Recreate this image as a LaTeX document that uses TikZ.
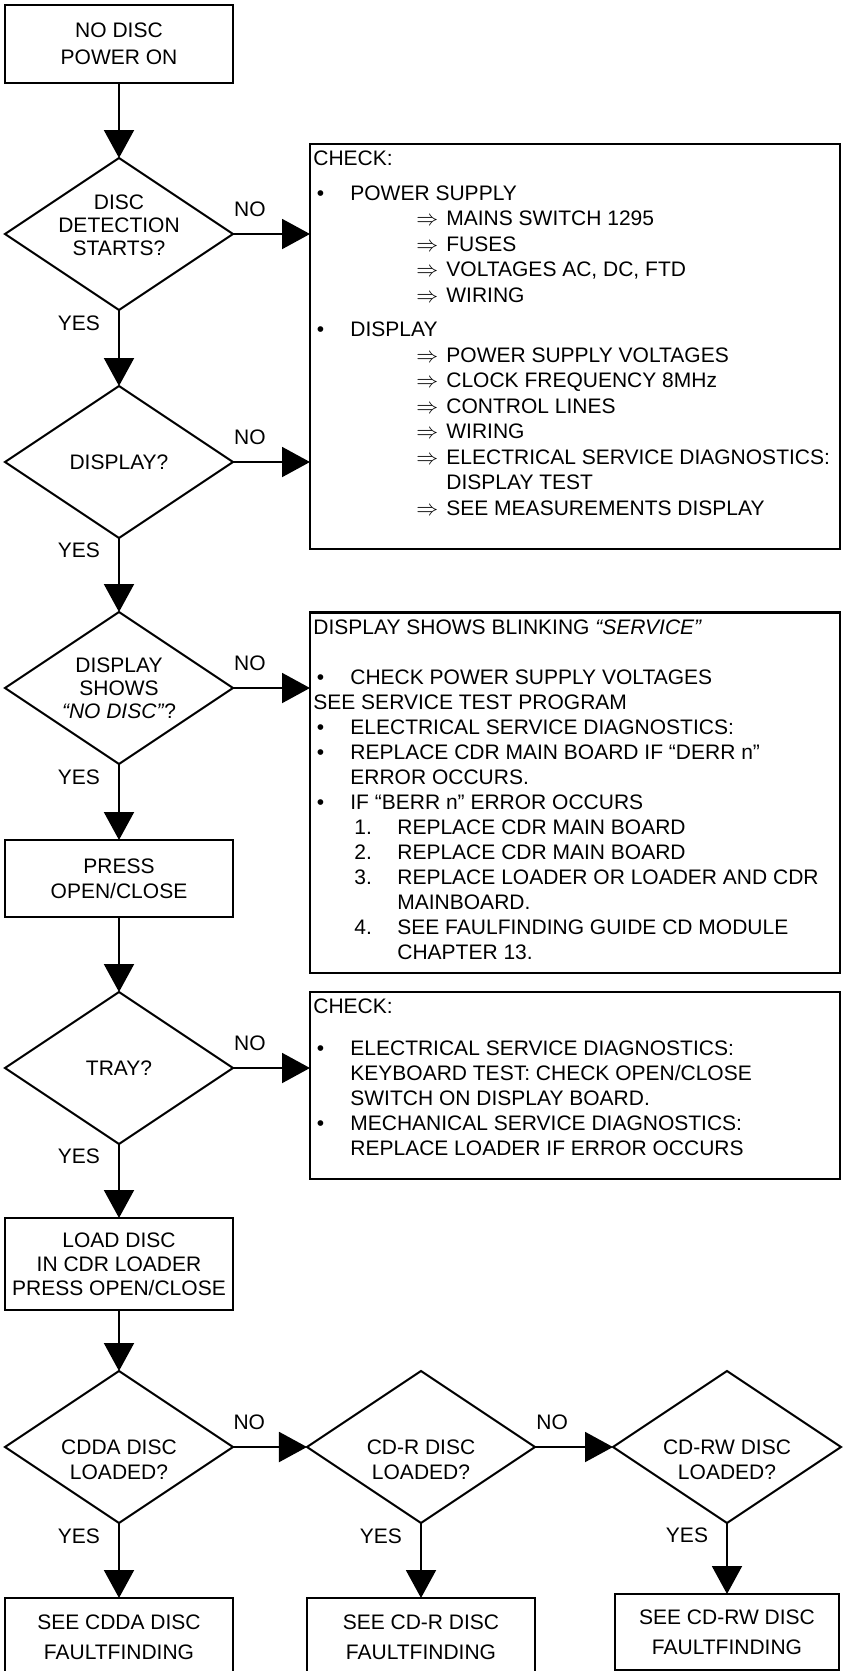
\documentclass[tikz,border=0pt]{standalone}
\usepackage{fontspec}
\setmainfont{Liberation Sans}
\usetikzlibrary{
	shapes.geometric,
	positioning,
	arrows.meta
}

\tikzset{
	procbox/.style={draw, line width=1.2pt, minimum width=114pt, minimum height=38.5pt,
		inner sep=0pt, outer sep=0pt, align=center},
	endbox/.style={procbox, minimum height=39pt, font=\fontsize{10.5pt}{15pt}\selectfont},
	decision/.style={diamond, draw, line width=1pt, minimum width=114pt, minimum height=76pt,
		aspect=1.5, inner sep=-10pt, outer sep=0pt, align=center,
		font=\fontsize{10.5pt}{11.5pt}\selectfont},
	decisionb/.style={decision, font=\fontsize{10.5pt}{12.5pt}\selectfont},
	checkbox/.style={draw, line width=1.2pt, minimum width=265pt, anchor=north west,
		inner sep=0pt, outer sep=0pt},
	checktext/.style={anchor=north west, inner sep=0pt, align=left},
	nolbl/.style={pos=0.22, above=8pt, inner sep=0pt},
	yeslbl/.style={pos=0.17, left=9pt, inner sep=0pt}
}
\newcommand{\bitem}{\hspace*{1.75pt}\makebox[16.75pt][l]{\textbullet}}
\newcommand{\aitem}{\hspace*{51.5pt}\makebox[15pt][l]{$\Rightarrow$}}
\newcommand{\nitem}[1]{\hspace*{20.5pt}\makebox[21.5pt][l]{#1}}

\begin{document}
\begin{tikzpicture}[x=0.5pt, y=-0.5pt,
	font=\fontsize{10.5pt}{12.5pt}\selectfont,
	>={Triangle[length=14pt,width=15pt]},
	every edge/.style={draw, ->, line width=1pt}]
	\useasboundingbox (0,0) rectangle (842,1671);
	\draw
		node [procbox, minimum height=39pt, font=\fontsize{10.5pt}{13.5pt}\selectfont] (start) at (119,44) {NO DISC\\POWER ON}
		node [decision, below=37.5pt of start]   (d1)    {DISC\\DETECTION\\STARTS?\\[-2.5pt]\mbox{}}
		node [decision, below=38pt of d1]        (d2)    {DISPLAY?}
		node [decision, below=37pt of d2]        (d3)    {DISPLAY\\SHOWS\\\textit{“NO DISC”}?}
		node [procbox, below=38pt of d3]         (press) {PRESS\\OPEN/CLOSE}
		node [decision, below=37.5pt of press]   (d4)    {TRAY?}
		node [procbox, minimum height=46pt, font=\fontsize{10.5pt}{12pt}\selectfont,
			below=37pt of d4]                    (load)  {LOAD DISC\\IN CDR LOADER\\PRESS OPEN/CLOSE}
		node [decisionb, below=30.5pt of load]   (d5)    {\mbox{}\\[8pt]CDDA DISC\\LOADED?}
		node [decisionb, right=37pt of d5]       (d6)    {\mbox{}\\[8pt]CD-R DISC\\LOADED?}
		node [decisionb, right=39pt of d6]       (d7)    {\mbox{}\\[8pt]CD-RW DISC\\LOADED?}
		node [endbox, below=37.5pt of d5]        (f5)    {SEE CDDA DISC\\FAULTFINDING}
		node [endbox, below=37.5pt of d6]        (f6)    {SEE CD-R DISC\\FAULTFINDING}
		node [endbox, minimum width=112pt, minimum height=38pt,
			below=35.5pt of d7]                  (f7)    {SEE CD-RW DISC\\FAULTFINDING}

		node [checkbox, minimum height=202.5pt]  (chk1) at (310,144) {}
		node [checktext, font=\fontsize{10.5pt}{12.75pt}\selectfont]
			(chk1txt) at ([xshift=1.5pt,yshift=-3.25pt]chk1.north west) {%
			CHECK:\\[4.5pt]
			\bitem POWER SUPPLY\\
			\aitem MAINS SWITCH 1295\\
			\aitem FUSES\\
			\aitem VOLTAGES AC, DC, FTD\\
			\aitem WIRING\\[4.5pt]
			\bitem DISPLAY\\
			\aitem POWER SUPPLY VOLTAGES\\
			\aitem CLOCK FREQUENCY 8MHz\\
			\aitem CONTROL LINES\\
			\aitem WIRING\\
			\aitem ELECTRICAL SERVICE DIAGNOSTICS:\\
			\hspace*{66.5pt}DISPLAY TEST\\
			\aitem SEE MEASUREMENTS DISPLAY}

		node [checkbox, minimum height=180.25pt] (chk2) at (310,612.5) {}
		node [checktext] (chk2txt) at ([xshift=1.5pt,yshift=-3.25pt]chk2.north west) {%
			DISPLAY SHOWS BLINKING \textit{“SERVICE”}\\[12.5pt]
			\bitem CHECK POWER SUPPLY VOLTAGES\\
			SEE SERVICE TEST PROGRAM\\
			\bitem ELECTRICAL SERVICE DIAGNOSTICS:\\
			\bitem REPLACE CDR MAIN BOARD IF “DERR n”\\
			\hspace*{18.5pt}ERROR OCCURS.\\
			\bitem IF “BERR n” ERROR OCCURS\\
			\nitem{1.}REPLACE CDR MAIN BOARD\\
			\nitem{2.}REPLACE CDR MAIN BOARD\\
			\nitem{3.}REPLACE LOADER OR LOADER AND CDR\\
			\hspace*{42pt}MAINBOARD.\\
			\nitem{4.}SEE FAULFINDING GUIDE CD MODULE\\
			\hspace*{42pt}CHAPTER 13.}

		node [checkbox, minimum height=93.5pt]   (chk3) at (310,992) {}
		node [checktext] (chk3txt) at ([xshift=1.5pt,yshift=-3.25pt]chk3.north west) {%
			CHECK:\\[8.5pt]
			\bitem ELECTRICAL SERVICE DIAGNOSTICS:\\
			\hspace*{18.5pt}KEYBOARD TEST: CHECK OPEN/CLOSE\\
			\hspace*{18.5pt}SWITCH ON DISPLAY BOARD.\\
			\bitem MECHANICAL SERVICE DIAGNOSTICS:\\
			\hspace*{18.5pt}REPLACE LOADER IF ERROR OCCURS}

		(start) edge                                  (d1)
		(d1)    edge node[yeslbl] {YES}               (d2)
		(d2)    edge node[yeslbl] {YES}               (d3)
		(d3)    edge node[yeslbl] {YES}               (press)
		(press) edge                                  (d4)
		(d4)    edge node[yeslbl] {YES}               (load)
		(load)  edge                                  (d5)
		(d5)    edge node[yeslbl] {YES}               (f5)
		(d6)    edge node[yeslbl] {YES}               (f6)
		(d7)    edge node[yeslbl] {YES}               (f7)
		(d1.east) edge node[nolbl] {NO} (d1.east -| chk1.west)
		(d2.east) edge node[nolbl] {NO} (d2.east -| chk1.west)
		(d3.east) edge node[nolbl] {NO} (d3.east -| chk2.west)
		(d4.east) edge node[nolbl] {NO} (d4.east -| chk3.west)
		(d5)    edge node[nolbl] {NO}                 (d6)
		(d6)    edge node[nolbl] {NO}                 (d7)
	;
\end{tikzpicture}
\end{document}
